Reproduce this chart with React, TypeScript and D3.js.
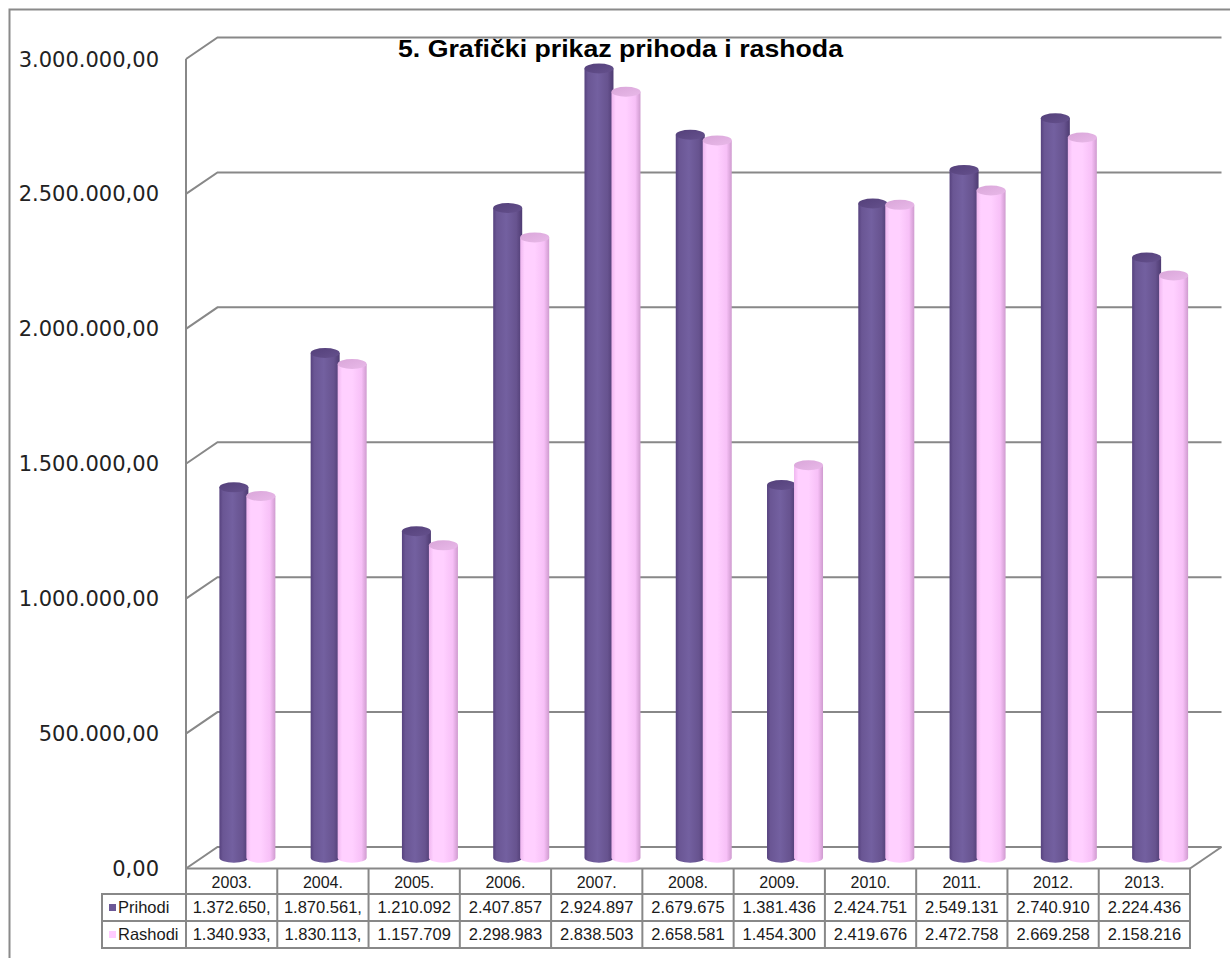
import React from "react";
import * as d3 from "d3";

const years = ["2003.", "2004.", "2005.", "2006.", "2007.", "2008.", "2009.", "2010.", "2011.", "2012.", "2013."];
const prihodi = [1372650, 1870561, 1210092, 2407857, 2924897, 2679675, 1381436, 2424751, 2549131, 2740910, 2224436];
const rashodi = [1340933, 1830113, 1157709, 2298983, 2838503, 2658581, 1454300, 2419676, 2472758, 2669258, 2158216];
const prihodiText = ["1.372.650,", "1.870.561,", "1.210.092", "2.407.857", "2.924.897", "2.679.675", "1.381.436", "2.424.751", "2.549.131", "2.740.910", "2.224.436"];
const rashodiText = ["1.340.933,", "1.830.113,", "1.157.709", "2.298.983", "2.838.503", "2.658.581", "1.454.300", "2.419.676", "2.472.758", "2.669.258", "2.158.216"];
const yTicks = [0, 500000, 1000000, 1500000, 2000000, 2500000, 3000000];
const yTickText = ["0,00", "500.000,00", "1.000.000,00", "1.500.000,00", "2.000.000,00", "2.500.000,00", "3.000.000,00"];
const seriesNames = ["Prihodi", "Rashodi"];

export default function App() {
  const W = 1230, H = 958;
  const x0 = 186, x1 = 1190;
  const DX = 31.5, DY = -21.5;
  const yFront = d3.scaleLinear().domain([0, 3000000]).range([868.5, 59]);
  const yMid = (v: number) => yFront(v) + DY / 2;
  const xBand = d3.scaleBand<string>().domain(years).range([x0, x1]).padding(0);
  const bw = xBand.bandwidth();
  const r = 14.5, ry = 5, off = 13.5;
  const grid = "#888888";

  const tableTop = yFront(0);
  const rowH1 = 25.5, rowH = 27;
  const legendX = 102;

  const cyl = (cx: number, v: number, fillId: string, topId: string, key: string) => {
    const yt = yMid(v);
    const yb = yMid(0);
    const d = `M${cx - r},${yt} L${cx - r},${yb} A${r},${ry} 0 0 0 ${cx + r},${yb} L${cx + r},${yt} Z`;
    return (
      <g key={key}>
        <path d={d} fill={`url(#${fillId})`} />
        <ellipse cx={cx} cy={yt} rx={r} ry={ry} fill={`url(#${topId})`} />
      </g>
    );
  };

  return (
    <svg width={W} height={H} style={{ position: "absolute", left: 0, top: 0, background: "#fff" }}>
      <defs>
        <linearGradient id="pBody" x1="0" x2="1" y1="0" y2="0">
          <stop offset="0%" stopColor="#56427e" />
          <stop offset="12%" stopColor="#6a5694" />
          <stop offset="45%" stopColor="#7360a0" />
          <stop offset="80%" stopColor="#67538f" />
          <stop offset="100%" stopColor="#4e3b72" />
        </linearGradient>
        <linearGradient id="pTop" x1="0" x2="1" y1="0" y2="1">
          <stop offset="0%" stopColor="#54407a" />
          <stop offset="100%" stopColor="#65518d" />
        </linearGradient>
        <linearGradient id="rBody" x1="0" x2="1" y1="0" y2="0">
          <stop offset="0%" stopColor="#efb6ef" />
          <stop offset="15%" stopColor="#ffd0ff" />
          <stop offset="50%" stopColor="#ffd0ff" />
          <stop offset="82%" stopColor="#f7c0f7" />
          <stop offset="100%" stopColor="#cf9bcf" />
        </linearGradient>
        <linearGradient id="rTop" x1="0" x2="1" y1="0" y2="1">
          <stop offset="0%" stopColor="#d9a6d9" />
          <stop offset="100%" stopColor="#e9b9e9" />
        </linearGradient>
      </defs>

      {/* outer chart border */}
      <path d={`M9.5,${H + 5} L9.5,9.5 L${W + 5},9.5`} fill="none" stroke="#8a8a8a" strokeWidth={2} />

      {/* gridlines: side wall + back wall */}
      {yTicks.map((t) => {
        const yf = yFront(t);
        return (
          <path
            key={`g${t}`}
            d={`M${x0},${yf} L${x0 + DX},${yf + DY} L${x1 + DX},${yf + DY}`}
            fill="none"
            stroke={grid}
            strokeWidth={2}
          />
        );
      })}
      {/* left wall front edge */}
      <line x1={x0} x2={x0} y1={yFront(3000000)} y2={tableTop} stroke={grid} strokeWidth={2} />
      {/* floor right edge */}
      <line x1={x1} y1={yFront(0)} x2={x1 + DX} y2={yFront(0) + DY} stroke={grid} strokeWidth={2} />

      {/* cylinders */}
      {years.map((yr, i) => {
        const c = (xBand(yr) as number) + bw / 2 + DX / 2;
        return (
          <g key={yr}>
            {cyl(c - off, prihodi[i], "pBody", "pTop", `p${i}`)}
            {cyl(c + off, rashodi[i], "rBody", "rTop", `r${i}`)}
          </g>
        );
      })}

      {/* data table */}
      <g fontFamily="'Liberation Sans', Arial, sans-serif" fill="#1a1a1a">
        <rect x={x0} y={tableTop} width={x1 - x0} height={rowH1} fill="#fff" stroke={grid} strokeWidth={2} />
        {[0, 1].map((k) => (
          <rect
            key={`row${k}`}
            x={legendX}
            y={tableTop + rowH1 + k * rowH}
            width={x1 - legendX}
            height={rowH}
            fill="#fff"
            stroke={grid}
            strokeWidth={2}
          />
        ))}
        {years.map((yr, i) => (
          <line
            key={`v${i}`}
            x1={xBand(yr) as number}
            x2={xBand(yr) as number}
            y1={tableTop}
            y2={tableTop + rowH1 + 2 * rowH}
            stroke={grid}
            strokeWidth={2}
          />
        ))}
        {years.map((yr, i) => (
          <text
            key={`yt${i}`}
            x={(xBand(yr) as number) + bw / 2}
            y={tableTop + rowH1 / 2 + 1}
            dy="0.36em"
            textAnchor="middle"
            fontSize={16}
          >
            {yr}
          </text>
        ))}
        {[prihodiText, rashodiText].map((arr, k) =>
          arr.map((s, i) => (
            <text
              key={`c${k}-${i}`}
              x={(xBand(years[i]) as number) + bw / 2}
              y={tableTop + rowH1 + k * rowH + rowH / 2}
              dy="0.36em"
              textAnchor="middle"
              fontSize={16.5}
            >
              {s}
            </text>
          ))
        )}
        {seriesNames.map((n, k) => (
          <g key={n}>
            <rect
              x={109}
              y={tableTop + rowH1 + k * rowH + rowH / 2 - 3.5}
              width={7}
              height={7}
              fill={k === 0 ? "#6b5896" : "#ffccff"}
            />
            <text x={118} y={tableTop + rowH1 + k * rowH + rowH / 2} dy="0.36em" fontSize={16.5}>
              {n}
            </text>
          </g>
        ))}
      </g>

      {/* y axis labels */}
      <g fontFamily="'DejaVu Sans', Verdana, sans-serif" fontSize={21} fill="#222">
        {yTicks.map((t, i) => (
          <text key={`yl${t}`} x={159} y={yFront(t)} dy="0.36em" textAnchor="end">
            {yTickText[i]}
          </text>
        ))}
      </g>

      {/* title */}
      <text
        x={620.5}
        y={57}
        textAnchor="middle"
        fontFamily="'Liberation Sans', Arial, sans-serif"
        fontWeight="bold"
        fontSize={24}
        textLength={445}
        lengthAdjust="spacingAndGlyphs"
        fill="#000"
      >
        5. Grafički prikaz prihoda i rashoda
      </text>
    </svg>
  );
}
